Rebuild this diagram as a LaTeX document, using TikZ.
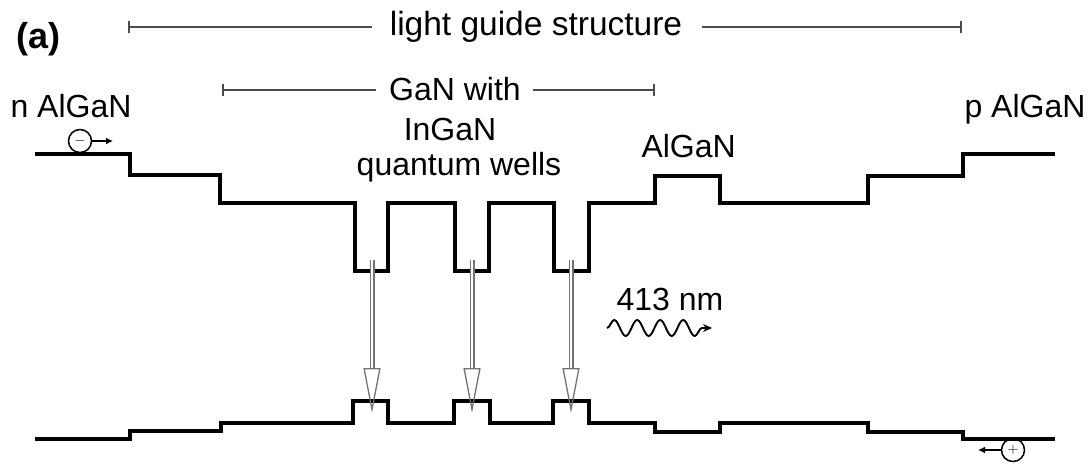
\documentclass[tikz,border=0pt]{standalone}
\usepackage{fontspec}
\setmainfont{Liberation Sans}
\usetikzlibrary{arrows.meta,decorations.pathmorphing}

\begin{document}
\begin{tikzpicture}[x=1pt, y=-1pt, font=\fontsize{32}{36}\selectfont,
    band/.style={line width=3.2pt, line join=miter},
    span/.style={line width=1.6pt, black!70},
    emit/.style={draw=black!55, line width=1.3pt, double=white, double distance=2.4pt, -{Triangle[open, length=45pt, width=17pt]}},
    wave/.style={line width=1.9pt, decorate, decoration={snake, amplitude=8pt, segment length=23pt, post length=10pt}, -{Stealth[length=9pt, width=8pt]}},
    carrier/.style={circle, draw, line width=1.5pt, minimum size=23pt, inner sep=0pt, font=\fontsize{14}{14}\selectfont},
    drift/.style={line width=1.6pt, -{Latex[length=7pt, width=7pt]}},
    label/.style={anchor=base west}]

    \useasboundingbox (0,0) rectangle (1091,464);

    % Labels
    \node[label, font=\fontsize{36}{40}\selectfont\bfseries] (a) at (13,48) {(a)};
    \node[label] (nside) at (7,117) {n AlGaN};
    \node[label] (pside) at (961,117) {p AlGaN};
    \node[label] (barrier) at (638,157) {AlGaN};
    \node[label] (wl) at (613,310) {413 nm};
    \node[anchor=base] (gan) at (455,100) {GaN with};
    \node[anchor=base] (ingan) at (450,140) {InGaN};
    \node[anchor=base] (qw) at (459,175) {quantum wells};
    \node[font=\fontsize{33.5}{38}\selectfont] (lg) at (536,27) {light guide structure};

    % Spans
    \coordinate (lgL) at (128,27);
    \coordinate (lgR) at (962,27);
    \coordinate (ganL) at (222,90);
    \coordinate (ganR) at (655,90);
    \draw[span, {Bar[width=12pt]}-] (lgL) -- ([xshift=-14pt]lgL -| lg.west);
    \draw[span, -{Bar[width=12pt]}] ([xshift=16pt]lgR -| lg.east) -- (lgR);
    \draw[span, {Bar[width=12pt]}-] (ganL) -- ([xshift=-10pt]ganL -| gan.west);
    \draw[span, -{Bar[width=12pt]}] ([xshift=9pt]ganR -| gan.east) -- (ganR);

    % Conduction band
    \draw[band] (35,154) -- (130,154) -- (130,175) -- (220,175) -- (220,203)
        -- (355,203) -- (355,271) -- (388,271) -- (388,203)
        -- (455,203) -- (455,271) -- (489,271) -- (489,203)
        -- (554,203) -- (554,271) -- (589,271) -- (589,203)
        -- (655,203) -- (655,176) -- (720,176) -- (720,203)
        -- (868,203) -- (868,176) -- (963,176) -- (963,154) -- (1055,154);

    % Valence band
    \draw[band] (35,439) -- (130,439) -- (130,431) -- (221,431) -- (221,423)
        -- (353,423) -- (353,401) -- (388,401) -- (388,423)
        -- (454,423) -- (454,401) -- (490,401) -- (490,423)
        -- (553,423) -- (553,401) -- (589,401) -- (589,423)
        -- (655,423) -- (655,432) -- (720,432) -- (720,423)
        -- (868,423) -- (868,432) -- (963,432) -- (963,439) -- (1055,439);

    % Recombination in the wells
    \coordinate (cb1) at (372,260);
    \coordinate (vb1) at (372,413);
    \coordinate (cb2) at (472,260);
    \coordinate (vb2) at (472,413);
    \coordinate (cb3) at (571,260);
    \coordinate (vb3) at (571,413);
    \draw[emit] (cb1) -- (vb1);
    \draw[emit] (cb2) -- (vb2);
    \draw[emit] (cb3) -- (vb3);

    % Emitted light
    \coordinate (w0) at (607,328);
    \coordinate (w1) at (712,328);
    \draw[wave] (w0) -- (w1);

    % Carriers
    \node[carrier] (el) at (80,141) {$-$};
    \coordinate (elend) at (113,141);
    \draw[drift] (el) -- (elend);
    \node[carrier] (ho) at (1013,450) {$+$};
    \coordinate (hoend) at (978,450);
    \draw[drift] (ho) -- (hoend);
\end{tikzpicture}
\end{document}
